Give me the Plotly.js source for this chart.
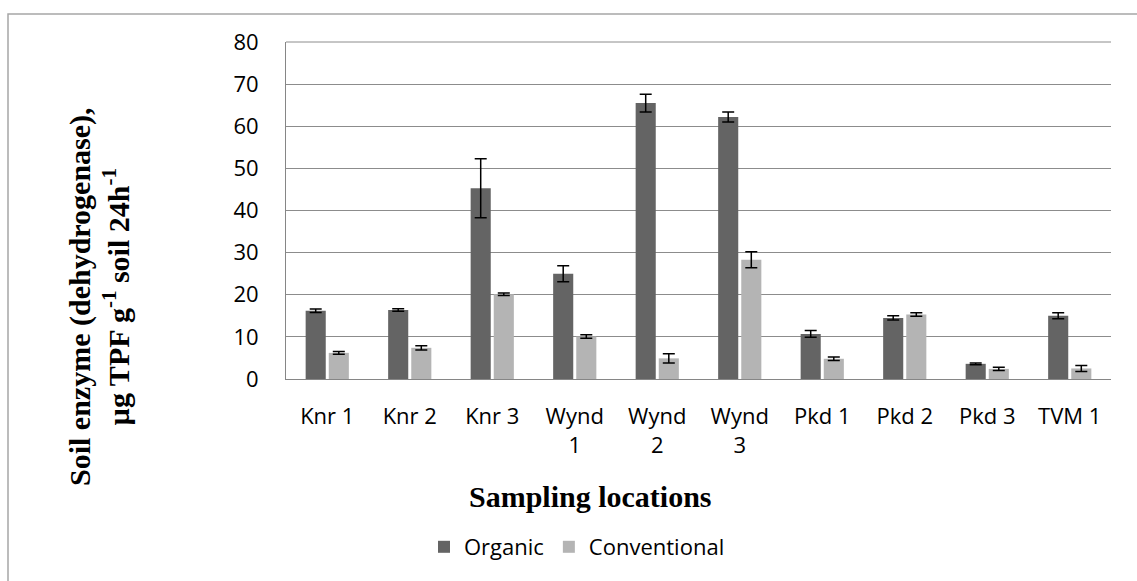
<!DOCTYPE html>
<html>
<head>
<meta charset="utf-8">
<script src="https://cdn.plot.ly/plotly-3.0.1.min.js"></script>
<style>html,body{margin:0;padding:0;background:#fff;}#chart{width:1137px;height:581px;}</style>
</head>
<body>
<div id="chart"></div>
<script>
const categories = ["Knr 1","Knr 2","Knr 3","Wynd 1","Wynd 2","Wynd 3","Pkd 1","Pkd 2","Pkd 3","TVM 1"];
const tickLabels = ["Knr 1","Knr 2","Knr 3","Wynd<br>1","Wynd<br>2","Wynd<br>3","Pkd 1","Pkd 2","Pkd 3","TVM 1"];
const organic = [16.2, 16.4, 45.3, 25.0, 65.5, 62.2, 10.7, 14.5, 3.6, 15.0];
const organicErr = [0.4, 0.3, 7.0, 1.9, 2.1, 1.2, 0.8, 0.5, 0.2, 0.7];
const conventional = [6.2, 7.4, 20.1, 10.1, 4.9, 28.3, 4.8, 15.3, 2.4, 2.5];
const conventionalErr = [0.3, 0.5, 0.3, 0.4, 1.1, 1.9, 0.4, 0.4, 0.4, 0.7];

const L = 286, R = 1111, T = 42, B = 379;
const px = x => (x - L) / (R - L);
const py = y => (B - y) / (B - T);

const errStyle = {type: 'data', visible: true, color: '#000', thickness: 1.5, width: 6};

const traces = [
  {type: 'bar', name: 'Organic', x: categories, y: organic,
   marker: {color: '#646464'},
   error_y: Object.assign({array: organicErr}, errStyle)},
  {type: 'bar', name: 'Conventional', x: categories, y: conventional,
   marker: {color: '#b4b4b4'},
   error_y: Object.assign({array: conventionalErr}, errStyle)}
];

const layout = {
  width: 1137, height: 581,
  margin: {l: L, r: 1137 - R, t: T, b: 581 - B, pad: 0},
  paper_bgcolor: '#fff', plot_bgcolor: '#fff',
  barmode: 'group', bargap: 0.44, bargroupgap: 0.13,
  font: {family: 'Open Sans, sans-serif', size: 22, color: '#000'},
  showlegend: true,
  legend: {orientation: 'h', x: px(577), xanchor: 'center', y: py(547), yanchor: 'middle',
           font: {family: 'Open Sans, sans-serif', size: 22, color: '#000'},
           traceorder: 'normal'},
  xaxis: {type: 'category', tickmode: 'array', tickvals: categories, ticktext: tickLabels,
          showgrid: false, showline: true, linecolor: '#868686', linewidth: 1,
          ticks: '', ticklabelstandoff: 18, tickangle: 0,
          tickfont: {family: 'Open Sans, sans-serif', size: 22, color: '#000'}},
  yaxis: {range: [0, 80], dtick: 10, tick0: 0, showgrid: true, gridcolor: '#8c8c8c', gridwidth: 1,
          showline: true, linecolor: '#868686', linewidth: 1, zeroline: false,
          ticks: '', ticklabelstandoff: 22,
          tickfont: {family: 'Open Sans, sans-serif', size: 22, color: '#000'}},
  shapes: [
    {type: 'rect', xref: 'paper', yref: 'paper', x0: px(8), x1: px(1300), y0: py(800), y1: py(14),
     line: {color: '#a6a6a6', width: 1.5}, fillcolor: 'rgba(0,0,0,0)', layer: 'below'},
    {type: 'line', xref: 'paper', yref: 'paper', x0: 0, x1: 1, y0: 1, y1: 1,
     line: {color: '#8c8c8c', width: 1}}
  ],
  annotations: [
    {xref: 'paper', yref: 'paper', x: px(590), y: py(497), xanchor: 'center', yanchor: 'middle',
     showarrow: false, text: '<b>Sampling locations</b>',
     font: {family: 'Liberation Serif, Times New Roman, serif', size: 30, color: '#000'}},
    {xref: 'paper', yref: 'paper', x: px(99), y: py(297), xanchor: 'center', yanchor: 'middle',
     showarrow: false, textangle: -90,
     text: '<b>Soil enzyme (dehydrogenase),<br>µg TPF g<sup>-1</sup> soil 24h<sup>-1</sup></b>',
     font: {family: 'Liberation Serif, Times New Roman, serif', size: 30, color: '#000'}}
  ]
};

Plotly.newPlot('chart', traces, layout, {displayModeBar: false, staticPlot: true});
</script>
</body>
</html>
